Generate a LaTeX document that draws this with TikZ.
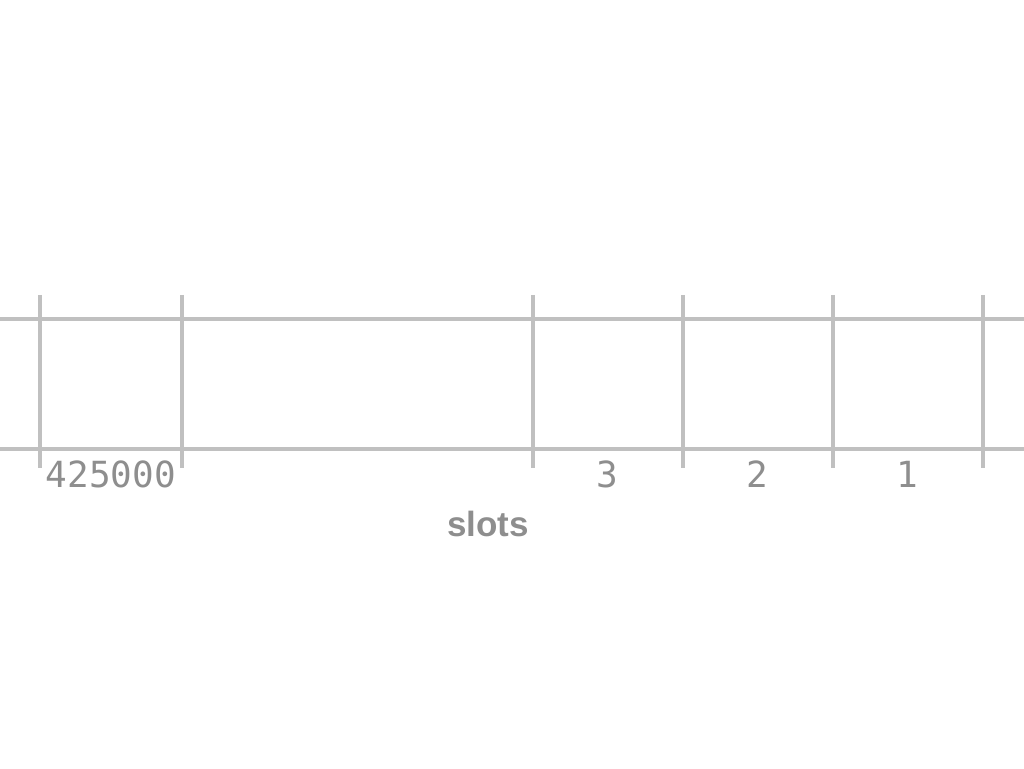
\documentclass[tikz,border=0pt]{standalone}
\usepackage{fontspec}
\setmainfont{Liberation Sans}
\newfontfamily\monofnt{DejaVu Sans Mono}
\definecolor{gridgray}{HTML}{C0C0C0}
\definecolor{txtgray}{HTML}{8E8E8E}
\begin{document}
\begin{tikzpicture}[x=1pt,y=1pt,
  gridline/.style={draw=gridgray,line width=3.3pt},
  ticklabel/.style={text=txtgray,font=\monofnt\fontsize{36}{36}\selectfont,anchor=base,inner sep=0pt},
  axislabel/.style={text=txtgray,font=\bfseries\fontsize{35}{35}\selectfont,anchor=base,inner sep=0pt}]
\useasboundingbox (0,0) rectangle (1024,768);
% horizontal lines
\coordinate (tl) at (0,449);
\coordinate (tr) at (1024,449);
\coordinate (bl) at (0,319);
\coordinate (br) at (1024,319);
\draw[gridline] (tl) -- (tr);
\draw[gridline] (bl) -- (br);
% vertical lines
\foreach \x/\n in {40/a,182/b,533/c,683/d,833/e,983/f}{
  \coordinate (\n top) at (\x,473);
  \coordinate (\n bot) at (\x,300);
  \draw[gridline] (\n top) -- (\n bot);
}
% labels
\node[ticklabel] (l425) at (111,280) {425000};
\node[ticklabel] (l3) at (607,280) {3};
\node[ticklabel] (l2) at (757,280) {2};
\node[ticklabel] (l1) at (907,280) {1};
\node[axislabel] (slots) at (488,231) {slots};
\end{tikzpicture}
\end{document}
